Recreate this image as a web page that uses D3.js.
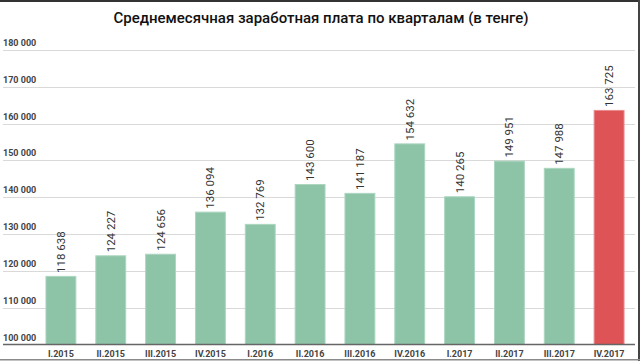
<!DOCTYPE html>
<html><head><meta charset="utf-8">
<script src="https://cdn.jsdelivr.net/npm/d3@7"></script>
<style>html,body{margin:0;padding:0;background:#fff;}svg{display:block;}</style>
</head><body>
<script>
const categories = ["I.2015","II.2015","III.2015","IV.2015","I.2016","II.2016","III.2016","IV.2016","I.2017","II.2017","III.2017","IV.2017"];
const values = [118638,124227,124656,136094,132769,143600,141187,154632,140265,149951,147988,163725];
const highlight = ["IV.2017"];
const yTicks = [100000,110000,120000,130000,140000,150000,160000,170000,180000];
const title = "Среднемесячная заработная плата по кварталам (в тенге)";

const W = 640, H = 361;
const svg = d3.select("body").append("svg").attr("width", W).attr("height", H);
const font = "Roboto, 'Noto Sans', sans-serif";

const x = d3.scaleBand().domain(categories).range([36, 634]).paddingInner(0.38).paddingOuter(0.19);
const y = d3.scaleLinear().domain([100000, 180000]).range([344.5, 50]);
const fmt = v => d3.format(",")(v).replace(/,/g, " ");

// title
svg.append("text").attr("x", 321).attr("y", 23).attr("text-anchor", "middle")
  .attr("font-family", font).attr("font-size", 15).attr("font-weight", 500).attr("fill", "#111").text(title);

// grid
const gy = svg.append("g");
gy.selectAll("line").data(yTicks.slice(1)).join("line")
  .attr("x1", 3).attr("x2", 635)
  .attr("y1", d => Math.round(y(d)) + 0.5).attr("y2", d => Math.round(y(d)) + 0.5)
  .attr("stroke", "#d9d9d9").attr("stroke-width", 1);
gy.selectAll("text").data(yTicks).join("text")
  .attr("x", 3).attr("y", d => Math.round(y(d)) - 4)
  .attr("font-family", font).attr("font-size", 9).attr("font-weight", "bold")
  .attr("fill", "#444").text(fmt);

// bars
svg.append("g").selectAll("rect").data(categories).join("rect")
  .attr("x", d => x(d) + 0.5).attr("width", x.bandwidth() - 1)
  .attr("y", (d, i) => y(values[i]) + 0.5).attr("height", (d, i) => y(100000) - y(values[i]) - 0.5)
  .attr("fill", d => highlight.includes(d) ? "#de5356" : "#8dc4a8")
  .attr("stroke", d => highlight.includes(d) ? "#ea8c8e" : "#acd6c0").attr("stroke-width", 1);

// value labels
svg.append("g").selectAll("text").data(categories).join("text")
  .attr("transform", (d, i) => `translate(${x(d) + x.bandwidth() / 2},${y(values[i]) - 3}) rotate(-90)`)
  .attr("dy", "0.35em").attr("font-family", font).attr("font-size", 11.5).attr("fill", "#333")
  .text((d, i) => fmt(values[i]));

// x axis
const xAxis = d3.axisBottom(x).tickSize(0).tickPadding(6);
const gx = svg.append("g").attr("transform", "translate(0,344.5)").call(xAxis);
gx.select(".domain").remove();
gx.append("line").attr("x1", 3).attr("x2", 635).attr("stroke", "#666").attr("stroke-width", 1.5);
gx.selectAll(".tick text").attr("font-family", font).attr("font-size", 9).attr("font-weight", "bold").attr("fill", "#444");

// frame
svg.append("rect").attr("x", 0).attr("y", 0).attr("width", W).attr("height", 2).attr("fill", "#333");
svg.append("rect").attr("x", 638).attr("y", 0).attr("width", 2).attr("height", H).attr("fill", "#444");
svg.append("rect").attr("x", 0).attr("y", 359).attr("width", W).attr("height", 1.5).attr("fill", "#8a8a8a");
</script>
</body></html>
